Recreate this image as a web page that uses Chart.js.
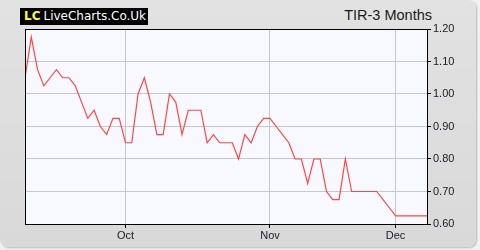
<!DOCTYPE html>
<html>
<head>
<meta charset="utf-8">
<script src="https://cdn.jsdelivr.net/npm/chart.js@4"></script>
<style>
  html, body { margin: 0; padding: 0; background: #f2f2f2; }
  #wrap { position: relative; width: 480px; height: 250px; overflow: hidden; }
  #panel { position: absolute; left: 0; top: 0; width: 476px; height: 247px;
    border-radius: 0 8px 8px 8px; background: linear-gradient(to bottom, #e2e2e2, #d9d9d9);
    box-shadow: 1px 1px 2px #b8b8b8; }
  #logo { position: absolute; left: 20px; top: 8px; width: 128px; height: 17px; background: #000;
    font-family: "DejaVu Sans", sans-serif; font-size: 12px; line-height: 17px; color: #fff; white-space: nowrap; }
  #logo b { color: #ffff33; margin-left: 4px; margin-right: 3px; }
  #title { position: absolute; right: 48px; top: 7px; font-family: "Liberation Sans", Arial, sans-serif;
    font-size: 14.5px; color: #1a1a1a; white-space: nowrap; }
  canvas { position: absolute; left: 0; top: 0; }
</style>
</head>
<body>
<div id="wrap">
  <div id="panel"></div>
  <div id="logo"><b>LC</b>LiveCharts.Co.Uk</div>
  <div id="title">TIR-3 Months</div>
  <canvas id="c" width="480" height="250"></canvas>
</div>
<script>
// Closing prices, one per trading day
const values = [1.05,1.175,1.075,1.025,1.05,1.075,1.05,1.05,1.025,0.975,
  0.925,0.95,0.90,0.875,0.925,0.925,0.85,0.85,1.00,1.05,
  0.975,0.875,0.875,1.00,0.975,0.875,0.95,0.95,0.95,0.85,
  0.875,0.85,0.85,0.85,0.80,0.875,0.85,0.90,0.925,0.925,
  0.90,0.875,0.85,0.80,0.80,0.725,0.80,0.80,0.70,0.675,
  0.675,0.80,0.70,0.70,0.70,0.70,0.70,0.675,0.65,0.625,
  0.625,0.625,0.625,0.625,0.625];
// Trading-day index where each month starts, and its label
const monthTickIndex = [16, 39, 59];
const monthTickLabels = ['Oct', 'Nov', 'Dec'];
const yTicks = [0.60, 0.70, 0.80, 0.90, 1.00, 1.10, 1.20];

const points = values.map((v, i) => ({ x: i, y: v }));

const plotFrame = {
  id: 'plotFrame',
  beforeDraw(chart) {
    const a = chart.chartArea, ctx = chart.ctx;
    ctx.save();
    ctx.fillStyle = '#f8f9ff';
    ctx.fillRect(a.left, a.top, a.right - a.left, a.bottom - a.top);
    ctx.restore();
  },
  afterDraw(chart) {
    const a = chart.chartArea, ctx = chart.ctx;
    ctx.save();
    ctx.strokeStyle = '#000';
    ctx.lineWidth = 1;
    ctx.strokeRect(Math.round(a.left) + 0.5, Math.round(a.top) + 0.5,
      Math.round(a.right - a.left), Math.round(a.bottom - a.top));
    ctx.restore();
  }
};

new Chart(document.getElementById('c'), {
  type: 'line',
  data: {
    datasets: [{
      data: points,
      borderColor: 'rgb(255,70,70)',
      borderWidth: 1.2,
      pointRadius: 0,
      tension: 0,
      fill: false
    }]
  },
  options: {
    responsive: false,
    animation: false,
    layout: { padding: { left: 25, top: 29, right: 0, bottom: 0 } },
    plugins: { legend: { display: false }, tooltip: { enabled: false } },
    scales: {
      x: {
        type: 'linear',
        min: 0,
        max: values.length - 1,
        afterBuildTicks(axis) { axis.ticks = monthTickIndex.map(v => ({ value: v })); },
        afterFit(axis) { axis.height = 26; },
        ticks: {
          autoSkip: false,
          maxRotation: 0,
          padding: 1,
          color: '#1a1a2a',
          font: { family: 'Liberation Sans, Arial, sans-serif', size: 11 },
          callback: (v) => monthTickLabels[monthTickIndex.indexOf(v)]
        },
        grid: { color: '#c8c8c8', lineWidth: 1, tickLength: 4, tickColor: '#000' },
        border: { color: '#000' }
      },
      y: {
        position: 'right',
        min: 0.6,
        max: 1.2,
        afterBuildTicks(axis) { axis.ticks = yTicks.map(v => ({ value: v })); },
        afterFit(axis) { axis.width = 53; },
        ticks: {
          padding: 2,
          color: '#1a1a2a',
          font: { family: 'Liberation Sans, Arial, sans-serif', size: 11 },
          callback: (v) => Number(v).toFixed(2)
        },
        grid: { color: '#c8c8c8', lineWidth: 1, tickLength: 4, tickColor: '#000' },
        border: { color: '#000' }
      }
    }
  },
  plugins: [plotFrame]
});
</script>
</body>
</html>
